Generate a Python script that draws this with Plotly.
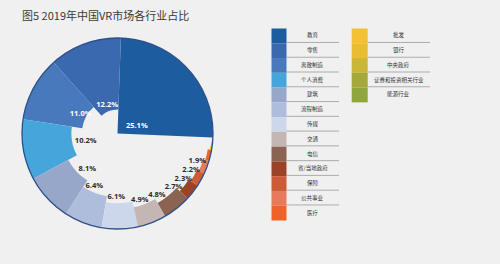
import numpy as np
import plotly.graph_objects as go

# ---------------- data ----------------
categories = ["教育", "零售", "离散制造", "个人消费", "建筑", "流程制造", "传媒", "交通",
              "电信", "省/当地政府", "保险", "公共事业", "医疗",
              "批发", "银行", "中央政府", "证券和投资相关行业", "能源行业"]
shares = [25.1, 12.2, 11.0, 10.2, 8.1, 6.4, 6.1, 4.9, 4.8, 2.7, 2.3, 2.2, 1.9,
          0.6, 0.5, 0.4, 0.3, 0.3]
colors = ["#1d5c9f", "#3a69af", "#4879bd", "#46a6dc", "#97a7c9", "#afbddc", "#cdd7eb",
          "#c4b6b3", "#8a6352", "#9b4327", "#cc5b3a", "#e77a5a", "#ef6329",
          "#f2c234", "#e8bd31", "#c9b735", "#a5a83b", "#8fa53d"]
n_labeled = 13          # only the first 13 slices carry a percentage label
n_inside = 3            # the first 3 labels sit inside their slice (white)

title_text = "图5 2019年中国VR市场各行业占比"

# ---------------- geometry from data ----------------
W, H = 500, 264
vals = np.array(shares, dtype=float)
total = vals.sum()
cum_start = np.concatenate([[0], np.cumsum(vals)[:-1]])
theta_mid = (cum_start + vals / 2) / total * 360
widths = vals / total * 360
base = cum_start / total * 100          # inner radius follows cumulative share
lengths = 100 - base

fig = go.Figure()
fig.add_trace(go.Barpolar(
    theta=theta_mid, width=widths, base=base, r=lengths,
    marker=dict(color=colors, line=dict(width=0)),
    hoverinfo="skip", showlegend=False))

# percentage labels (placed just inside the inner edge of each slice)
rot = -2.4
lab_r, lab_t, lab_pos, lab_col = [], [], [], []
for i in range(n_labeled):
    a = np.deg2rad(theta_mid[i] + rot)
    c = np.cos(a)
    if i < n_inside:
        if i == 0:
            lab_r.append(base[i] + 12); lab_pos.append("middle right")
        else:
            lab_r.append(base[i] + 6.5); lab_pos.append("middle center")
        lab_t.append(theta_mid[i])
        lab_col.append("white")
    else:
        if c < -0.4:
            lab_r.append(base[i] - 3); lab_t.append(theta_mid[i]); lab_pos.append("middle right")
        elif c < 0.4:
            lab_r.append(base[i] - 6); lab_t.append(theta_mid[i] - 2.5); lab_pos.append("middle center")
        else:
            lab_r.append(base[i] - 7.5); lab_t.append(theta_mid[i] - 6); lab_pos.append("middle center")
        lab_col.append("#2b2b2b")
fig.add_trace(go.Scatterpolar(
    r=lab_r, theta=lab_t, mode="text",
    text=[f"<b>{v:.1f}%</b>" for v in shares[:n_labeled]],
    textposition=lab_pos,
    textfont=dict(family="Open Sans", size=7.5, color=lab_col),
    hoverinfo="skip", showlegend=False, cliponaxis=False))

cx, cy, R = 117.5, 133.5, 95.5
fig.update_layout(
    width=W, height=H,
    margin=dict(l=0, r=0, t=0, b=0),
    paper_bgcolor="#f0f0f0", plot_bgcolor="#f0f0f0",
    polar=dict(
        domain=dict(x=[(cx - R) / W, (cx + R) / W], y=[1 - (cy + R) / H, 1 - (cy - R) / H]),
        bgcolor="rgba(0,0,0,0)",
        radialaxis=dict(visible=False, range=[0, 100]),
        angularaxis=dict(direction="counterclockwise", rotation=rot,
                         showticklabels=False, ticks="", showgrid=False,
                         showline=True, linecolor="#2f4f88", linewidth=1.3),
        barmode="overlay"),
)

# title
fig.add_annotation(text=title_text, x=20 / W, y=1 - 15 / H, xref="paper", yref="paper",
                   xanchor="left", yanchor="middle", showarrow=False,
                   font=dict(family="Noto Sans CJK SC", size=11, color="#3a3a3a"))

# custom legend (two columns)
row_top, row_h = 28.5, 14.77
columns = [
    dict(items=range(0, 13), sx0=271.5, sx1=286.5, lx1=339.0),
    dict(items=range(13, 18), sx0=351.7, sx1=367.7, lx1=430.0),
]
shapes = []
for col in columns:
    items = list(col["items"])
    for k, idx in enumerate(items):
        y0 = row_top + k * row_h
        y1 = y0 + row_h
        shapes.append(dict(type="rect", xref="paper", yref="paper",
                           x0=col["sx0"] / W, x1=col["sx1"] / W,
                           y0=1 - y1 / H, y1=1 - y0 / H,
                           fillcolor=colors[idx], line=dict(width=0)))
        if k < len(items) - 1:
            ly = y1 - 0.8
            shapes.append(dict(type="line", xref="paper", yref="paper",
                               x0=col["sx1"] / W, x1=col["lx1"] / W,
                               y0=1 - ly / H, y1=1 - ly / H,
                               line=dict(color="#9a9a9a", width=0.8)))
        fig.add_annotation(text=categories[idx], xref="paper", yref="paper",
                           x=(col["sx1"] + col["lx1"]) / 2 / W, y=1 - (y0 + row_h / 2 - 0.5) / H,
                           xanchor="center", yanchor="middle", showarrow=False,
                           font=dict(family="Noto Sans CJK SC", size=5.5, color="#333333"))
fig.update_layout(shapes=shapes)

fig.write_html("out.html")
